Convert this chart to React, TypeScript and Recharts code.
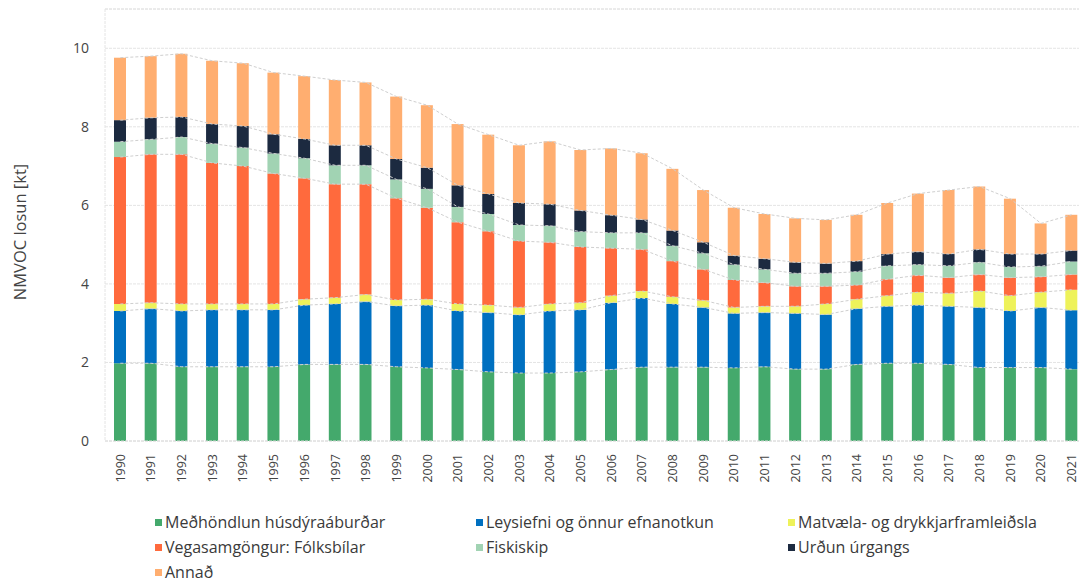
import React from 'react';
import { ComposedChart, Bar, Line, XAxis, YAxis, CartesianGrid, ReferenceLine } from 'recharts';

const years = ['1990','1991','1992','1993','1994','1995','1996','1997','1998','1999','2000','2001','2002','2003','2004','2005','2006','2007','2008','2009','2010','2011','2012','2013','2014','2015','2016','2017','2018','2019','2020','2021'];

const medhondlun = [1.98,1.98,1.89,1.89,1.89,1.89,1.95,1.95,1.95,1.89,1.86,1.82,1.76,1.73,1.73,1.76,1.82,1.88,1.88,1.88,1.86,1.89,1.83,1.83,1.95,1.98,1.98,1.95,1.87,1.87,1.87,1.83];
const leysiefni = [1.33,1.39,1.42,1.45,1.45,1.45,1.51,1.54,1.60,1.55,1.60,1.49,1.51,1.48,1.58,1.58,1.70,1.76,1.61,1.52,1.39,1.38,1.42,1.39,1.42,1.45,1.48,1.48,1.53,1.44,1.53,1.50];
const matvaela = [0.18,0.15,0.18,0.15,0.15,0.15,0.15,0.16,0.18,0.15,0.15,0.18,0.19,0.19,0.18,0.18,0.18,0.18,0.18,0.18,0.15,0.16,0.18,0.27,0.24,0.27,0.33,0.33,0.42,0.39,0.39,0.52];
const vegasamgongur = [3.74,3.78,3.81,3.59,3.51,3.32,3.08,2.89,2.81,2.59,2.33,2.08,1.88,1.69,1.57,1.42,1.21,1.06,0.91,0.79,0.70,0.60,0.51,0.45,0.36,0.42,0.43,0.40,0.42,0.46,0.39,0.39];
const fiskiskip = [0.39,0.38,0.44,0.49,0.47,0.51,0.51,0.48,0.48,0.48,0.48,0.39,0.44,0.41,0.42,0.39,0.39,0.42,0.39,0.41,0.39,0.34,0.33,0.33,0.34,0.34,0.27,0.30,0.31,0.27,0.27,0.33];
const urdun = [0.55,0.55,0.51,0.50,0.55,0.49,0.49,0.51,0.51,0.52,0.54,0.55,0.51,0.56,0.55,0.54,0.45,0.34,0.39,0.28,0.23,0.27,0.28,0.25,0.27,0.30,0.33,0.30,0.33,0.33,0.31,0.28];
const annad = [1.59,1.57,1.61,1.61,1.60,1.57,1.60,1.66,1.60,1.59,1.59,1.56,1.51,1.47,1.60,1.54,1.70,1.69,1.57,1.33,1.22,1.14,1.12,1.11,1.18,1.30,1.48,1.63,1.60,1.41,0.78,0.91];

const yTicks = [0, 2, 4, 6, 8, 10];

const series = [
  { key: 'medhondlun', name: 'Meðhöndlun húsdýraáburðar', color: '#44a96c', values: medhondlun },
  { key: 'leysiefni', name: 'Leysiefni og önnur efnanotkun', color: '#0070c0', values: leysiefni },
  { key: 'matvaela', name: 'Matvæla- og drykkjarframleiðsla', color: '#eef25a', values: matvaela },
  { key: 'vegasamgongur', name: 'Vegasamgöngur: Fólksbílar', color: '#ff6a3d', values: vegasamgongur },
  { key: 'fiskiskip', name: 'Fiskiskip', color: '#a1d3b3', values: fiskiskip },
  { key: 'urdun', name: 'Urðun úrgangs', color: '#1c2a40', values: urdun },
  { key: 'annad', name: 'Annað', color: '#ffae70', values: annad },
];

const data = years.map((y, i) => {
  const row: Record<string, number | string> = { year: y };
  let cum = 0;
  series.forEach((s) => {
    row[s.key] = s.values[i];
    cum += s.values[i];
    row['cum_' + s.key] = Math.round(cum * 1000) / 1000;
  });
  return row;
});

const legendOrder = [
  [series[0], series[1], series[2]],
  [series[3], series[4], series[5]],
  [series[6]],
];
const legendCols = [155, 476, 788];
const FONT = "'Open Sans', Lato, sans-serif";

const XTick = (props: any) => {
  const { x, y, payload } = props;
  return (
    <text
      x={x}
      y={y + 5}
      transform={`rotate(-90, ${x}, ${y + 5})`}
      textAnchor="end"
      dy="0.35em"
      fontSize={12.5}
      fill="#444"
      fontFamily={FONT}
    >
      {payload.value}
    </text>
  );
};

export default function App() {
  return (
    <div style={{ position: 'fixed', left: 0, top: 0, width: 1079, height: 583, overflow: 'hidden', fontFamily: FONT, background: '#fff' }}>
      <div style={{ position: 'absolute', left: 8, top: 8 }}>
        <ComposedChart
          width={1090}
          height={480}
          data={data}
          margin={{ top: 1, right: 11, left: 0, bottom: 2 }}
          barCategoryGap={0}
        >
          <CartesianGrid vertical={false} stroke="#e4e4e4" strokeDasharray="3 1" />
          <ReferenceLine y={11} stroke="#e4e4e4" strokeDasharray="3 1" ifOverflow="extendDomain" />
          <XAxis
            dataKey="year"
            interval={0}
            tickLine={false}
            axisLine={{ stroke: '#dcdcdc', strokeDasharray: '3 1' }}
            height={45}
            tick={<XTick />}
          />
          <YAxis
            domain={[0, 11]}
            ticks={yTicks}
            width={97}
            tickLine={false}
            axisLine={{ stroke: '#e4e4e4', strokeDasharray: '3 1' }}
            tickMargin={10}
            tick={{ fontSize: 14, fill: '#444', fontFamily: FONT }}
            label={{
              content: () => (
                <text
                  x={12}
                  y={224}
                  transform="rotate(-90, 12, 224)"
                  textAnchor="middle"
                  dy="0.35em"
                  fontSize={16.5}
                  fill="#444"
                  fontFamily={FONT}
                >
                  NMVOC losun [kt]
                </text>
              ),
            }}
          />
          {series.map((s) => (
            <Line
              key={'l_' + s.key}
              dataKey={'cum_' + s.key}
              stroke="#cfcfcf"
              strokeDasharray="3 2"
              strokeWidth={1}
              dot={false}
              activeDot={false}
              legendType="none"
              isAnimationActive={false}
            />
          ))}
          {series.map((s) => (
            <Bar
              key={s.key}
              dataKey={s.key}
              name={s.name}
              stackId="a"
              fill={s.color}
              barSize={12}
              isAnimationActive={false}
            />
          ))}
        </ComposedChart>
      </div>
      {legendOrder.map((row, ri) =>
        row.map((s, ci) => (
          <div
            key={s.key}
            style={{
              position: 'absolute',
              left: legendCols[ci],
              top: 514 + ri * 25,
              height: 17,
              display: 'flex',
              alignItems: 'center',
              fontSize: 16,
              color: '#3a3a3a',
              whiteSpace: 'nowrap',
              overflow: 'visible',
            }}
          >
            <span style={{ display: 'block', width: 7, height: 7, background: s.color, marginRight: 3 }} />
            <span style={{ display: 'block', lineHeight: '17px', height: 17 }}>{s.name}</span>
          </div>
        ))
      )}
    </div>
  );
}
